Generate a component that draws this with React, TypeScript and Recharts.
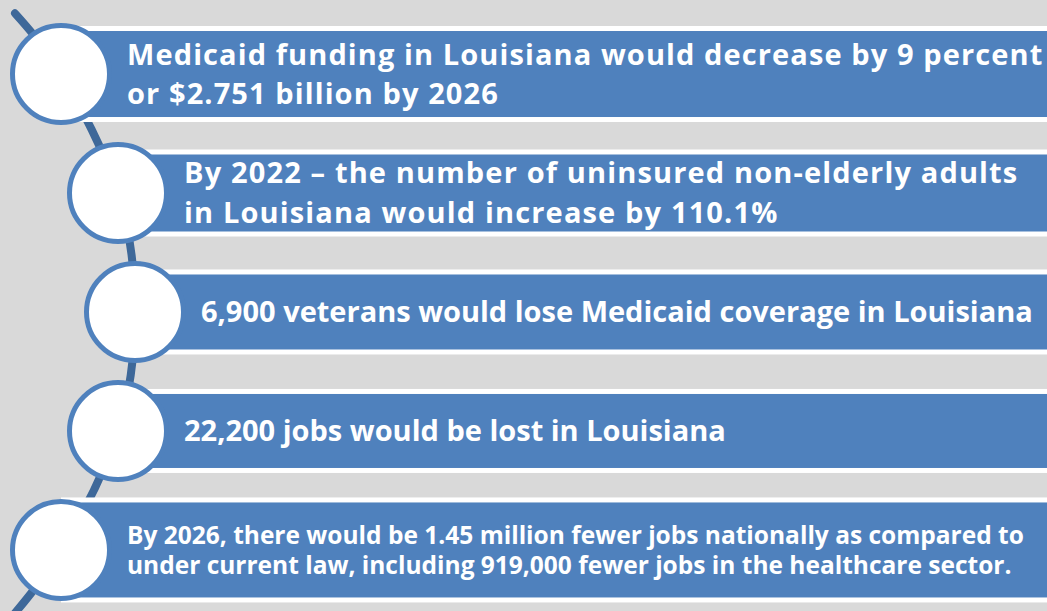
import { ComposedChart, Line, Scatter, XAxis, YAxis } from "recharts";

const W = 1047;
const H = 611;

// one entry per step of the timeline, top to bottom
const statements = [
  ["Medicaid funding in Louisiana would decrease by 9 percent", "or $2.751 billion by 2026"],
  ["By 2022 \u2013 the number of uninsured non-elderly adults", "in Louisiana would increase by 110.1%"],
  ["6,900 veterans would lose Medicaid coverage in Louisiana"],
  ["22,200 jobs would be lost in Louisiana"],
  [
    "By 2026, there would be 1.45 million fewer jobs nationally as compared to",
    "under current law, including 919,000 fewer jobs in the healthcare sector.",
  ],
];
const steps = [0, 1, 2, 3, 4];
const indents = [61, 118, 135, 118, 61];

// connector arc running through the circles
const arcSteps = [-0.51, 0, 1, 2, 3, 4, 4.56];
const arcIndents = [15, 61, 118, 135, 118, 61, 12];

// styles per step
const BAND_H = [96, 87, 85, 84, 105];
const FONT = [29, 29, 29, 29, 24.5];
const SPACING = [1.1, 1.15, 0, 0, 0];
const LINE_GAP = [39, 40, 0, 0, 30];

const BLUE = "#4f81bd";
const ARC = "#3e6899";

const items = steps.map((s, i) => ({ x: indents[i], y: s, i, lines: statements[i] }));
const arc = arcSteps.map((s, i) => ({ x: arcIndents[i], y: s }));

function Step(props: any) {
  const { cx, cy, payload } = props;
  const i = payload.i;
  const h = BAND_H[i];
  const fs = FONT[i];
  const gap = LINE_GAP[i];
  const lines: string[] = payload.lines;
  const cap = fs * 0.71;
  const first = cy - ((lines.length - 1) * gap) / 2 + cap / 2;
  return (
    <g>
      <rect x={cx} y={cy - h / 2} width={W - cx} height={h} fill="#ffffff" />
      <rect x={cx} y={cy - h / 2 + 5} width={W - cx} height={h - 10} fill={BLUE} />
      <circle cx={cx} cy={cy} r={48.5} fill="#ffffff" stroke={BLUE} strokeWidth={5} />
      {lines.map((t, k) => (
        <text
          key={k}
          x={cx + 66}
          y={first + k * gap}
          fill="#ffffff"
          fontSize={fs}
          fontWeight={700}
          letterSpacing={SPACING[i]}
          fontFamily="'Open Sans', sans-serif"
        >
          {t}
        </text>
      ))}
    </g>
  );
}

export default function App() {
  return (
    <div style={{ position: "absolute", left: 0, top: 0, width: W, height: H, background: "#d9d9d9" }}>
      <ComposedChart width={W} height={H} margin={{ top: 0, right: 0, bottom: 0, left: 0 }}>
        <XAxis type="number" dataKey="x" domain={[0, W]} allowDataOverflow hide />
        <YAxis type="number" dataKey="y" domain={[-0.622, 4.513]} reversed allowDataOverflow hide />
        <Line
          data={arc}
          dataKey="y"
          type="natural"
          stroke={ARC}
          strokeWidth={8}
          strokeLinecap="round"
          dot={false}
          isAnimationActive={false}
        />
        <Scatter data={items} shape={<Step />} isAnimationActive={false} />
      </ComposedChart>
    </div>
  );
}
